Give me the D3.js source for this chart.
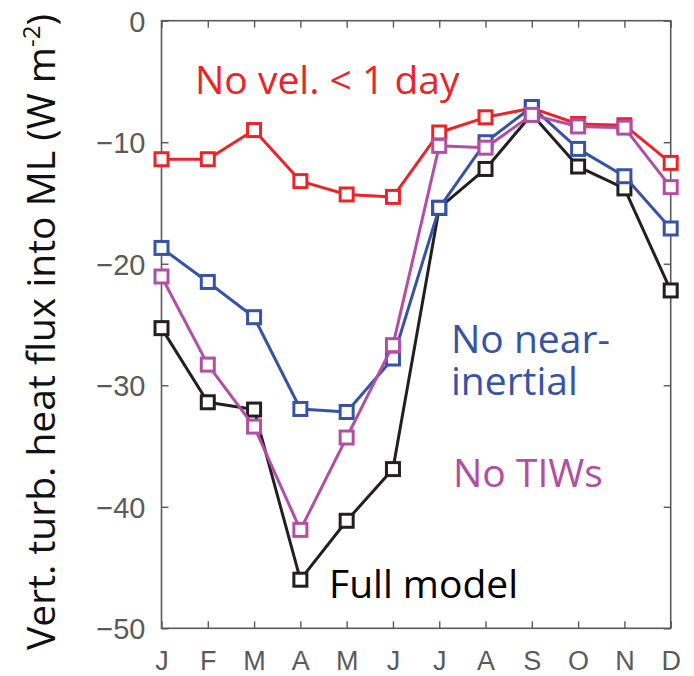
<!DOCTYPE html>
<html><head><meta charset="utf-8">
<script src="https://cdn.jsdelivr.net/npm/d3@7"></script>
<style>body{margin:0;background:#fff}</style>
</head><body>
<svg id="c" width="694" height="676"></svg>
<script>
const months = ["J","F","M","A","M","J","J","A","S","O","N","D"];
const yTicks = [0,-10,-20,-30,-40,-50];
const noVel = [-11.4,-11.4,-9.0,-13.2,-14.3,-14.5,-9.2,-7.95,-7.2,-8.5,-8.6,-11.7];
const fullModel = [-25.3,-31.4,-32.0,-46.0,-41.15,-36.9,-15.4,-12.2,-7.7,-12.0,-13.8,-22.2];
const noNearInertial = [-18.7,-21.5,-24.4,-31.95,-32.2,-27.8,-15.4,-10.0,-7.1,-10.55,-12.8,-17.1];
const noTIWs = [-21.05,-28.3,-33.4,-41.9,-34.3,-26.7,-10.3,-10.45,-7.75,-8.7,-8.8,-13.7];

const series = [
  {name:"No vel. < 1 day", values:noVel, color:"#ec2327"},
  {name:"Full model", values:fullModel, color:"#231f20"},
  {name:"No near-inertial", values:noNearInertial, color:"#3653a4"},
  {name:"No TIWs", values:noTIWs, color:"#b24ea3"}
];

const svg = d3.select("#c");
const L=161.5, R=670.7, T=20.7, B=628.3;
const x = d3.scaleLinear().domain([0,11]).range([L,R]);
const y = d3.scaleLinear().domain([-50,0]).range([B,T]);
const axisColor="#5a5a5a";

svg.append("rect").attr("x",L).attr("y",T).attr("width",R-L).attr("height",B-T)
  .attr("fill","none").attr("stroke",axisColor).attr("stroke-width",1.6);

const idx = d3.range(12);
svg.append("g").attr("transform",`translate(0,${B})`)
  .call(d3.axisBottom(x).tickValues(idx).tickSizeInner(-7).tickSizeOuter(0).tickFormat(i=>months[i]))
  .call(g=>{g.select(".domain").remove();
    g.selectAll("line").attr("stroke",axisColor).attr("stroke-width",1.4);
    g.selectAll("text").attr("fill",axisColor).attr("font-family","Liberation Sans, Arial, sans-serif")
      .attr("font-size",27).attr("dy",0).attr("y",41.5);});
svg.append("g").attr("transform",`translate(0,${T})`)
  .call(d3.axisTop(x).tickValues(idx).tickSizeInner(-7).tickSizeOuter(0).tickFormat(""))
  .call(g=>{g.select(".domain").remove();g.selectAll("line").attr("stroke",axisColor).attr("stroke-width",1.4);});
svg.append("g").attr("transform",`translate(${L},0)`)
  .call(d3.axisLeft(y).tickValues(yTicks).tickSizeInner(-7).tickSizeOuter(0).tickFormat(d3.format("d")))
  .call(g=>{g.select(".domain").remove();
    g.selectAll("line").attr("stroke",axisColor).attr("stroke-width",1.4);
    g.selectAll("text").attr("fill",axisColor).attr("font-family","Liberation Sans, Arial, sans-serif")
      .attr("font-size",29).attr("x",-16).attr("dy","0.36em");});
svg.append("g").attr("transform",`translate(${R},0)`)
  .call(d3.axisRight(y).tickValues(yTicks).tickSizeInner(-7).tickSizeOuter(0).tickFormat(""))
  .call(g=>{g.select(".domain").remove();g.selectAll("line").attr("stroke",axisColor).attr("stroke-width",1.4);});

const yl = svg.append("text").attr("transform","translate(55,332) rotate(-90)")
  .attr("text-anchor","middle").attr("font-family","Open Sans, sans-serif").attr("font-size",39).attr("fill","#111");
yl.append("tspan").text("Vert. turb. heat flux into ML (W m");
yl.append("tspan").text("-2").attr("font-size",24).attr("dy",-15);
yl.append("tspan").text(")").attr("dy",15);

const line = d3.line().x((d,i)=>x(i)).y(d=>y(d));
const ms = 13;
series.forEach(s=>{
  const g = svg.append("g");
  g.append("path").datum(s.values).attr("d",line).attr("fill","none")
    .attr("stroke",s.color).attr("stroke-width",3).attr("stroke-linejoin","round");
  g.selectAll("rect").data(s.values).join("rect")
    .attr("x",(d,i)=>x(i)-ms/2).attr("y",d=>y(d)-ms/2).attr("width",ms).attr("height",ms)
    .attr("fill","white").attr("stroke",s.color).attr("stroke-width",3);
});

const lbl = (lines,xx,yy,c)=>{
  const t = svg.append("text").attr("font-family","Open Sans, sans-serif").attr("font-size",39).attr("fill",c);
  lines.forEach((s,i)=>t.append("tspan").attr("x",xx).attr("y",yy+i*42.5).text(s));
};
lbl(["No vel. < 1 day"],195,94,"#ec2327");
lbl(["No near-","inertial"],451,352.5,"#3653a4");
lbl(["No TIWs"],453,487,"#b24ea3");
lbl(["Full model"],329,598,"#000");
</script>
</body></html>
